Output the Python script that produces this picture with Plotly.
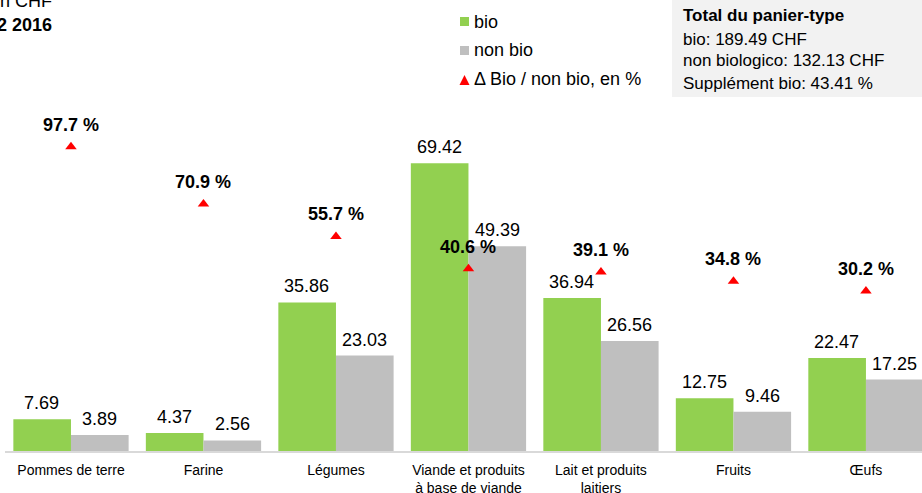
import plotly.graph_objects as go

categories = ["Pommes de terre", "Farine", "Légumes",
              "Viande et produits<br>à base de viande",
              "Lait et produits<br>laitiers", "Fruits", "Œufs"]
bio = [7.69, 4.37, 35.86, 69.42, 36.94, 12.75, 22.47]
non_bio = [3.89, 2.56, 23.03, 49.39, 26.56, 9.46, 17.25]
delta_pct = [97.7, 70.9, 55.7, 40.6, 39.1, 34.8, 30.2]

legend_labels = ["bio", "non bio", "Δ Bio / non bio, en %"]
info_lines = ["<b>Total du panier-type</b>", "bio: 189.49 CHF",
              "non biologico: 132.13 CHF", "Supplément bio: 43.41 %"]
title_lines = ["Prix moyens en CHF", "<b>Trimestre 2 2016</b>"]

GREEN = "#92d050"
GREY = "#bfbfbf"
RED = "#ff0000"
FONT = "Liberation Sans, Arial, sans-serif"

W, H = 922, 493
ML, MR, MT, MB = 5, 0, 100, 42
PW, PH = W - ML - MR, H - MT - MB


def px(x):
    return (x - ML) / PW


def py(y):
    return (MT + PH - y) / PH


fig = go.Figure()
fig.add_trace(go.Bar(x=categories, y=bio, name=legend_labels[0],
                     marker=dict(color=GREEN, line=dict(width=0)),
                     showlegend=False, hoverinfo="x+y"))
fig.add_trace(go.Bar(x=categories, y=non_bio, name=legend_labels[1],
                     marker=dict(color=GREY, line=dict(width=0)),
                     showlegend=False, hoverinfo="x+y"))
fig.add_trace(go.Scatter(x=categories, y=delta_pct, name=legend_labels[2],
                         mode="markers", yaxis="y2",
                         marker=dict(symbol="triangle-up", size=10, color=RED),
                         showlegend=False, cliponaxis=False))

annotations = []
# value labels above bars
for c, v in zip(categories, bio):
    annotations.append(dict(x=c, y=v, xref="x", yref="y", text=f"{v:.2f}",
                            showarrow=False, xshift=-29, yshift=16,
                            yanchor="middle",
                            font=dict(size=18, color="#000", family=FONT)))
for c, v in zip(categories, non_bio):
    annotations.append(dict(x=c, y=v, xref="x", yref="y", text=f"{v:.2f}",
                            showarrow=False, xshift=29, yshift=16,
                            yanchor="middle",
                            font=dict(size=18, color="#000", family=FONT)))
# percentage labels
for c, v in zip(categories, delta_pct):
    annotations.append(dict(x=c, y=v, xref="x", yref="y2", text=f"<b>{v:.1f} %</b>",
                            showarrow=False, yshift=22, yanchor="middle",
                            font=dict(size=18, color="#000", family=FONT)))

# manual legend
leg_y = [21.5, 50, 79.5]
for i, (lab, yy) in enumerate(zip(legend_labels, leg_y)):
    annotations.append(dict(x=px(472), y=py(yy), xref="paper", yref="paper",
                            text=lab, showarrow=False, xanchor="left",
                            yanchor="middle",
                            font=dict(size=18, color="#000", family=FONT)))

shapes = []
shapes.append(dict(type="rect", xref="paper", yref="paper",
                   x0=px(460), x1=px(469), y0=py(26), y1=py(17),
                   fillcolor=GREEN, line=dict(width=0)))
shapes.append(dict(type="rect", xref="paper", yref="paper",
                   x0=px(460), x1=px(469), y0=py(55), y1=py(46),
                   fillcolor=GREY, line=dict(width=0)))
shapes.append(dict(type="path", xref="paper", yref="paper",
                   xsizemode="pixel", ysizemode="pixel",
                   xanchor=px(464.5), yanchor=py(80),
                   path="M-5,-5 L5,-5 L0,5 Z",
                   fillcolor=RED, line=dict(width=0)))

# info box
shapes.append(dict(type="rect", xref="paper", yref="paper",
                   x0=px(672), x1=px(930), y0=py(97), y1=py(-5),
                   fillcolor="#f2f2f2", line=dict(width=0), layer="below"))
for lab, yy in zip(info_lines, [16, 39, 61, 83.5]):
    annotations.append(dict(x=px(681), y=py(yy), xref="paper", yref="paper",
                            text=lab, showarrow=False, xanchor="left",
                            yanchor="middle",
                            font=dict(size=17, color="#000", family=FONT)))

# cropped title at top-left
for lab, yy in zip(title_lines, [1, 25]):
    annotations.append(dict(x=px(54), y=py(yy), xref="paper", yref="paper",
                            text=lab, showarrow=False, xanchor="right",
                            yanchor="middle",
                            font=dict(size=18, color="#000", family=FONT)))

fig.update_layout(
    width=W, height=H,
    margin=dict(l=ML, r=MR, t=MT, b=MB, pad=0, autoexpand=False),
    paper_bgcolor="white", plot_bgcolor="white",
    barmode="group", bargap=0.13, bargroupgap=0,
    font=dict(family=FONT, color="#000"),
    xaxis=dict(range=[-0.498, 6.423], showgrid=False, zeroline=False,
               showline=True, linecolor="#d9d9d9", linewidth=1.5,
               ticks="", ticklabelstandoff=5, automargin=False,
               tickfont=dict(size=14, color="#000", family=FONT),
               fixedrange=True),
    yaxis=dict(range=[0, 84.7], visible=False, showgrid=False, fixedrange=True,
               automargin=False),
    yaxis2=dict(range=[-44.64, 119.53], overlaying="y", visible=False,
                showgrid=False, fixedrange=True, automargin=False),
    annotations=annotations,
    shapes=shapes,
    showlegend=False,
)

fig.write_html(
    "out.html",
    config={"displayModeBar": False},
    post_script="document.body.style.margin='0';document.body.style.overflow='hidden';",
)
